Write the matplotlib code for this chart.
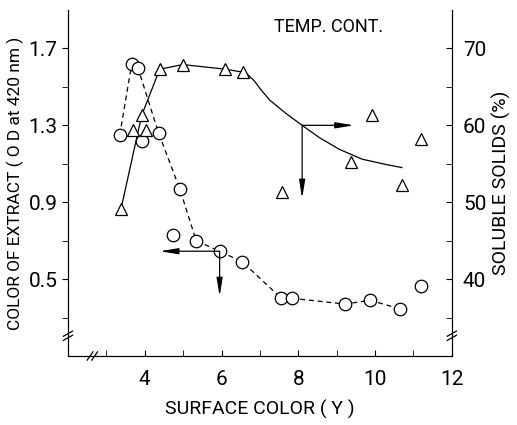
import matplotlib
matplotlib.use("Agg")
import matplotlib.pyplot as plt

plt.rcParams['font.family'] = ['Roboto', 'DejaVu Sans']

# color of extract (O.D. at 420 nm), left axis, dashed line
col_x = [3.35, 3.66, 3.82, 4.36, 4.91, 5.34, 5.95, 6.54, 7.56, 7.84, 9.22, 9.87, 10.65]
col_y = [1.25, 1.62, 1.60, 1.26, 0.97, 0.70, 0.645, 0.59, 0.40, 0.40, 0.37, 0.39, 0.345]
# circles not on the dashed line
col_x_free = [3.93, 4.73, 11.19]
col_y_free = [1.22, 0.73, 0.465]

# soluble solids (%), right axis
sol_x = [3.38, 3.92, 4.39, 4.99, 6.10, 6.57]
sol_y = [49.1, 61.3, 67.3, 67.9, 67.3, 66.9]
sol_x_free = [3.69, 4.03, 7.58, 9.38, 9.92, 10.70, 11.19]
sol_y_free = [59.4, 59.4, 51.3, 55.2, 61.4, 52.2, 58.2]
# fitted curve
fit_x = [6.57, 6.70, 6.85, 7.0, 7.25, 7.69, 8.10, 8.55, 9.06, 9.66, 10.29, 10.70]
fit_y = [66.9, 66.5, 65.8, 64.8, 63.3, 61.5, 60.0, 58.4, 56.9, 55.6, 54.9, 54.5]

fig = plt.figure(figsize=(5.17, 4.25), dpi=100)
ax = fig.add_axes([0.1315, 0.1624, 0.7425, 0.8141])
ax2 = ax.twinx()

ax.set_xlim(2, 12)
ax.set_ylim(0.1, 1.9)
ax2.set_ylim(30, 75)

ax.plot(col_x, col_y, ls=(0, (4, 3)), color='black', lw=0.9, marker='o', ms=9,
        mfc='white', mec='black', mew=0.9, zorder=3)
ax.plot(col_x_free, col_y_free, ls='none', marker='o', ms=9, mfc='white',
        mec='black', mew=0.9, zorder=3)
ax2.plot(sol_x, sol_y, color='black', lw=0.9, marker='^', ms=8, mfc='white',
         mec='black', mew=0.9, zorder=3)
ax2.plot(sol_x_free, sol_y_free, ls='none', marker='^', ms=8, mfc='white',
         mec='black', mew=0.9, zorder=3)
ax2.plot(fit_x, fit_y, color='black', lw=0.9)

# arrows
akw = dict(arrowstyle='-|>,head_length=1.1,head_width=0.18', color='black', lw=0.9,
           shrinkA=0, shrinkB=0)
ax2.annotate('', xy=(9.45, 60.0), xytext=(8.10, 60.0), arrowprops=akw)
ax2.annotate('', xy=(8.10, 50.5), xytext=(8.10, 60.0), arrowprops=akw)
ax.annotate('', xy=(4.39, 0.645), xytext=(5.95, 0.645), arrowprops=akw)
ax.annotate('', xy=(5.95, 0.41), xytext=(5.95, 0.645), arrowprops=akw)

ax.text(8.78, 1.81, 'TEMP. CONT.', ha='center', va='center', fontsize=13)

# ticks
ax.set_xticks([4, 6, 8, 10, 12])
ax.set_xticks([3, 5, 7, 9, 11], minor=True)
ax.set_yticks([0.5, 0.9, 1.3, 1.7])
ax.set_yticklabels(['0.5', '0.9', '1.3', '1.7'])
ax.set_yticks([0.3, 0.7, 1.1, 1.5], minor=True)
ax2.set_yticks([40, 50, 60, 70])
ax2.set_yticks([35, 45, 55, 65], minor=True)
ax.tick_params(axis='x', which='both', direction='in', length=4, labelsize=15, pad=10)
ax.tick_params(axis='y', which='both', direction='out', length=4, labelsize=15)
ax2.tick_params(axis='y', which='both', direction='in', length=4, labelsize=15, pad=8)
ax.spines['top'].set_visible(False)
ax2.spines['top'].set_visible(False)

ax.set_xlabel('SURFACE COLOR ( Y )', fontsize=14, labelpad=8)
ax.set_ylabel('COLOR OF EXTRACT ( O D at 420 nm )', fontsize=12.5, labelpad=3)
ax2.set_ylabel('SOLUBLE SOLIDS (%)', fontsize=14, labelpad=4)

# axis breaks
bkw = dict(color='black', lw=0.9, clip_on=False, transform=ax.transAxes)
for dy in (0.0, 0.012):
    ax.plot([-0.012, 0.012], [0.045 + dy, 0.06 + dy], **bkw)
    ax.plot([0.988, 1.012], [0.045 + dy, 0.06 + dy], **bkw)
for dx in (0.0, 0.012):
    ax.plot([0.05 + dx, 0.065 + dx], [-0.012, 0.012], **bkw)

fig.savefig('out.png', dpi=100)
